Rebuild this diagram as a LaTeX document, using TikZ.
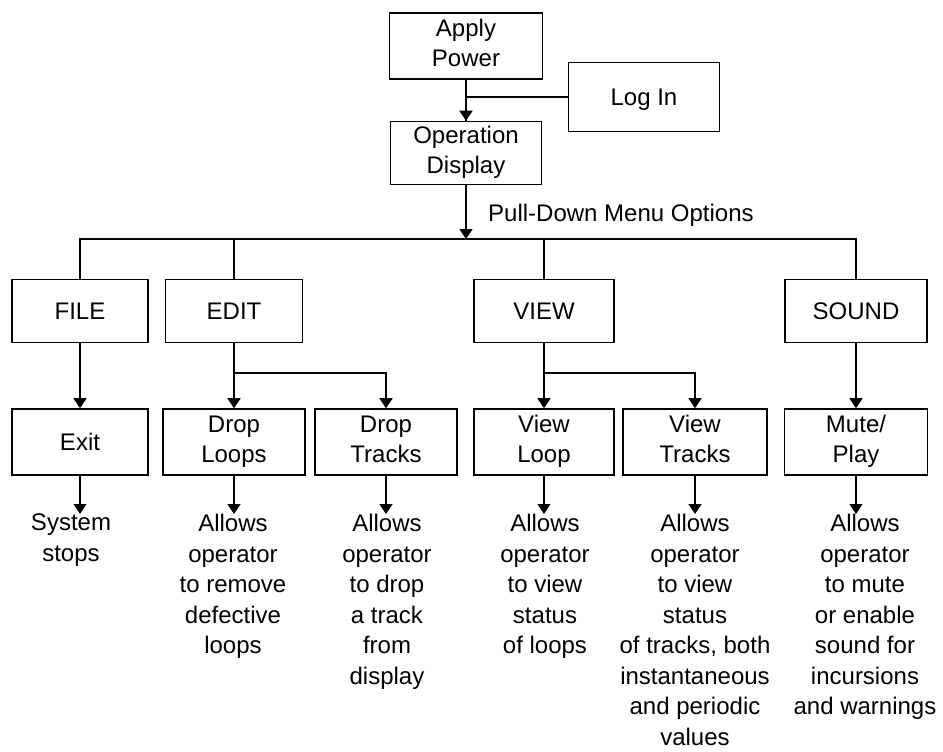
\documentclass[tikz,border=0pt]{standalone}
\usepackage{fontspec}
\setmainfont{Liberation Sans}
\usetikzlibrary{arrows.meta}
\begin{document}
\begin{tikzpicture}[x=1pt,y=-1pt,
    box/.style={draw,line width=1.6pt,align=center,inner sep=0pt,
      minimum height=66pt,font=\fontsize{24}{30}\selectfont,
      execute at begin node={\rule{0pt}{23pt}},
      execute at end node={\rule[-6pt]{0pt}{6pt}}},
    note/.style={align=center,anchor=north,inner sep=0pt,
      font=\fontsize{24}{30.5}\selectfont},
    flow/.style={line width=1.8pt,-{Triangle[width=13pt,length=10pt]}},
    link/.style={line width=1.8pt}]
  \useasboundingbox (0,0) rectangle (943,752);
  \draw
    (466,46) node[box,minimum width=153pt] (power){Apply\\Power}
    (644,97) node[box,minimum width=151pt,minimum height=69pt] (login){Log In}
    (466,153) node[box,minimum width=151pt,minimum height=63pt] (display){Operation\\Display}
    (80,311) node[box,minimum width=136pt,minimum height=63pt] (file){FILE}
    (234,311) node[box,minimum width=137pt,minimum height=63pt] (edit){EDIT}
    (544,311) node[box,minimum width=140pt,minimum height=63pt] (view){VIEW}
    (856,311) node[box,minimum width=142pt,minimum height=63pt] (sound){SOUND}
    (80,442) node[box,minimum width=136pt] (exit){Exit}
    (234,442) node[box,minimum width=142pt] (droploops){Drop\\Loops}
    (386,442) node[box,minimum width=142pt] (droptracks){Drop\\Tracks}
    (544,442) node[box,minimum width=140pt] (viewloop){View\\Loop}
    (695,442) node[box,minimum width=144pt] (viewtracks){View\\Tracks}
    (856,442) node[box,minimum width=143pt] (muteplay){Mute/\\Play};
  \node[anchor=west,inner sep=0pt,font=\fontsize{24}{30}\selectfont] (menulabel) at (488,215) {Pull-Down Menu Options};
  \node[note] (exitnote) at (71,514) {System\\stops};
  \node[note] (loopsnote) at (233,514) {Allows\\operator\\to remove\\defective\\loops};
  \node[note] (tracksnote) at (387,514) {Allows\\operator\\to drop\\a track\\from\\display};
  \node[note] (viewloopnote) at (545,514) {Allows\\operator\\to view\\status\\of loops};
  \node[note] (viewtracksnote) at (695,514) {Allows\\operator\\to view\\status\\of tracks, both\\instantaneous\\and periodic\\values};
  \node[note] (mutenote) at (865,514) {Allows\\operator\\to mute\\or enable\\sound for\\incursions\\and warnings};
  \coordinate (bar) at (466,239);
  \path (edit.south) ++(0,30) coordinate (editfork);
  \path (view.south) ++(0,30) coordinate (viewfork);
  \begin{scope}[link]
    \draw (power) -- (display);
    \draw (login.west) -- (login.west -| power.south);
    \draw (file.north) |- (bar) -| (sound.north);
    \draw (edit.north) -- (edit.north |- bar);
    \draw (view.north) -- (view.north |- bar);
  \end{scope}
  \begin{scope}[flow]
    \draw (power.south) -- (display.north);
    \draw (display.south) -- (bar);
    \draw (file.south) -- (exit.north);
    \draw (edit.south) -- (droploops.north);
    \draw (editfork) -| (droptracks.north);
    \draw (view.south) -- (viewloop.north);
    \draw (viewfork) -| (viewtracks.north);
    \draw (sound.south) -- (muteplay.north);
    \draw (exit.south) -- (exit.south |- exitnote.north);
    \draw (droploops.south) -- (droploops.south |- loopsnote.north);
    \draw (droptracks.south) -- (droptracks.south |- tracksnote.north);
    \draw (viewloop.south) -- (viewloop.south |- viewloopnote.north);
    \draw (viewtracks.south) -- (viewtracks.south |- viewtracksnote.north);
    \draw (muteplay.south) -- (muteplay.south |- mutenote.north);
  \end{scope}
\end{tikzpicture}
\end{document}
